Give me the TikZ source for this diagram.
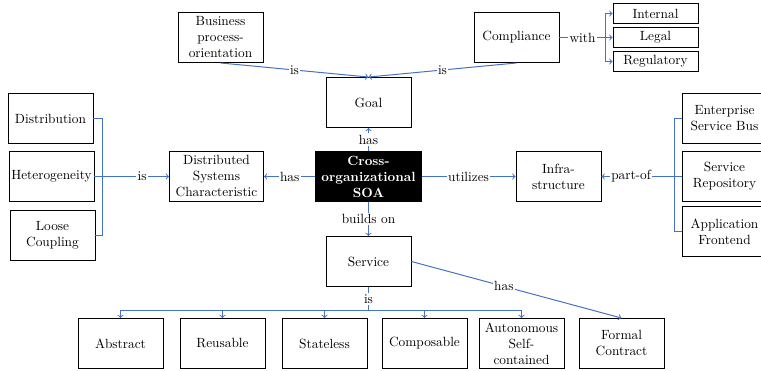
\documentclass[tikz,border=0pt]{standalone}
\usepackage{color}
\usepackage{tikz}
\usepackage{amsmath}
\usepackage{amssymb}
\definecolor{linkblue}{RGB}{68,114,196}

\begin{document}
\begin{tikzpicture}[x=0.75pt,y=-0.75pt]
            \tikzstyle{box}=[draw=black,line width=0.7pt,minimum width=63.75pt,minimum height=37.5pt,align=center,inner sep=1pt]
            \tikzstyle{smallbox}=[box,minimum height=15pt]
            \tikzstyle{conn}=[draw=linkblue,line width=0.75pt]
            \tikzstyle{arr}=[conn,->,>=to]
            \tikzstyle{lbl}=[fill=white,inner sep=1pt,text=black]
            \useasboundingbox (0.5,0.5) rectangle (761.5,371.5);
            \node [box] (bpo) at (221,38) {Business\\process-\\orientation};
            \node [box] (compliance) at (517,38) {Compliance};
            \node [smallbox] (internal) at (656,14) {Internal};
            \node [smallbox] (legal) at (656,38) {Legal};
            \node [smallbox] (regulatory) at (656,62) {Regulatory};
            \node [box] (goal) at (369,103) {Goal};
            \node [box] (distribution) at (51,119) {Distribution};
            \node [box] (hetero) at (52,177) {Heterogeneity};
            \node [box] (loose) at (53,236) {Loose\\Coupling};
            \node [box,minimum width=70.5pt] (dsc) at (217,177) {Distributed\\Systems\\Characteristic};
            \node [box,fill=black,text=white,font=\bfseries,minimum width=79pt] (soa) at (369,177) {Cross-\\organizational\\SOA};
            \node [box] (infra) at (559,177) {Infra-\\structure};
            \node [box] (esb) at (725,119) {Enterprise\\Service Bus};
            \node [box] (repo) at (725,177) {Service\\Repository};
            \node [box] (frontend) at (725,232) {Application\\Frontend};
            \node [box] (service) at (369,262) {Service};
            \node [box] (abstract) at (121,344) {Abstract};
            \node [box] (reusable) at (223,344) {Reusable};
            \node [box] (stateless) at (325,344) {Stateless};
            \node [box] (composable) at (425,344) {Composable};
            \node [box] (autonomous) at (522,344) {Autonomous\\Self-\\contained};
            \node [box] (formal) at (622,344) {Formal\\Contract};
            \coordinate (withbus) at (606,38);
            \coordinate (dsbus) at (103,177);
            \coordinate (pobus) at (675,177);
            \coordinate (isbus) at (369,311);
            \draw [arr] (bpo.south) -- node [lbl] {is} (goal.north);
            \draw [arr] (compliance.south) -- node [lbl] {is} (goal.north);
            \draw [conn] (compliance.east) -- node [lbl] {with} (withbus);
            \draw [arr] (withbus) |- (internal.west);
            \draw [arr] (withbus) -- (legal.west);
            \draw [arr] (withbus) |- (regulatory.west);
            \draw [arr] (soa.north) -- node [lbl] {has} (goal.south);
            \draw [arr] (soa.west) -- node [lbl] {has} (dsc.east);
            \draw [conn] (distribution.east) -| (dsbus);
            \draw [conn] (loose.east) -| (dsbus);
            \draw [arr] (hetero.east) -- node [lbl,pos=0.64] {is} (dsc.west);
            \draw [arr] (soa.east) -- node [lbl] {utilizes} (infra.west);
            \draw [conn] (esb.west) -| (pobus);
            \draw [conn] (frontend.west) -| (pobus);
            \draw [arr] (repo.west) -- node [lbl,pos=0.63] {part-of} (infra.east);
            \draw [arr] (soa.south) -- node [lbl] {builds on} (service.north);
            \draw [conn] (service.south) -- node [lbl] {is} (isbus);
            \draw [arr] (isbus) -| (abstract.north);
            \draw [arr] (isbus) -| (reusable.north);
            \draw [arr] (isbus) -| (stateless.north);
            \draw [arr] (isbus) -| (composable.north);
            \draw [arr] (isbus) -| (autonomous.north);
            \draw [arr] (service.east) -- node [lbl,pos=0.44] {has} (formal.north);
\end{tikzpicture}
\end{document}
